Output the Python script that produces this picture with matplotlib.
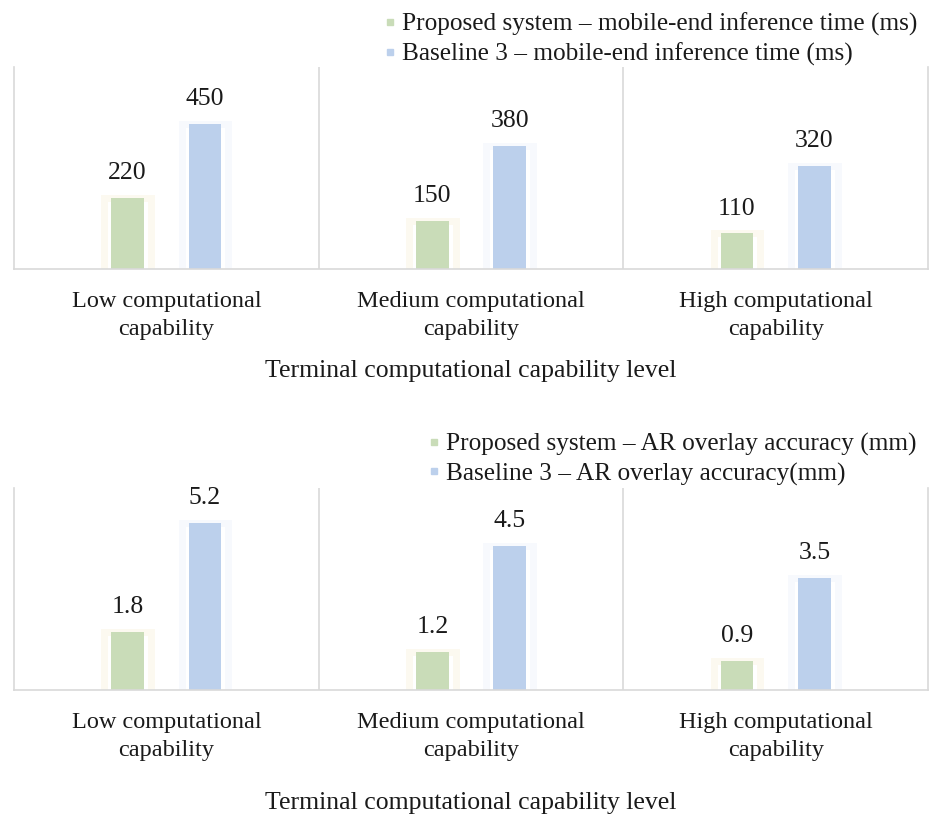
import matplotlib
matplotlib.use("Agg")
import matplotlib.pyplot as plt
from matplotlib.lines import Line2D
import numpy as np

# data
levels = ["Low computational\ncapability",
          "Medium computational\ncapability",
          "High computational\ncapability"]
time_proposed = [220, 150, 110]
time_baseline = [450, 380, 320]
acc_proposed = [1.8, 1.2, 0.9]
acc_baseline = [5.2, 4.5, 3.5]

time_names = ["Proposed system \u2013 mobile-end inference time (ms)",
              "Baseline 3 \u2013 mobile-end inference time (ms)"]
acc_names = ["Proposed system \u2013 AR overlay accuracy (mm)",
             "Baseline 3 \u2013 AR overlay accuracy(mm)"]
xlabel = "Terminal computational capability level"

GREEN = "#C9DCB8"
BLUE = "#BCD0EC"
GRID = "#D9D9D9"
TXT = "#1a1a1a"

plt.rcParams["font.family"] = ["Liberation Serif", "DejaVu Serif"]

fig = plt.figure(figsize=(9.39, 8.18), dpi=100)


def panel(rect, a, b, ymax, names, leg_y, leg_x, lab_pad, fmt):
    ax = fig.add_axes(rect)
    x = np.arange(len(levels))
    off, w = 0.127, 0.108
    pad = ymax * 0.045
    for vals, col, glow, sgn in ((a, GREEN, "#FCF9F0", -1), (b, BLUE, "#F7F9FD", 1)):
        # white box with a faint glow behind each bar
        ax.bar(x + sgn * off, [v + pad for v in vals], w * 1.42, bottom=-pad,
               color="white", edgecolor=glow, linewidth=5, zorder=1)
        bars = ax.bar(x + sgn * off, vals, w, color=col, linewidth=0, zorder=2)
        for r, v in zip(bars, vals):
            ax.annotate(fmt.format(v), (r.get_x() + r.get_width() / 2, r.get_height()),
                        xytext=(0, 10), textcoords="offset points",
                        ha="center", va="bottom", fontsize=18.5, color=TXT)
    ax.set_xlim(-0.5, 2.5)
    ax.set_ylim(0, ymax)
    for xv in (0.5, 1.5):
        ax.axvline(xv, color=GRID, lw=1.2, zorder=3)
    ax.spines["top"].set_visible(False)
    for s in ("left", "right", "bottom"):
        ax.spines[s].set_color(GRID)
        ax.spines[s].set_linewidth(1.2)
        ax.spines[s].set_zorder(3)
    ax.set_yticks([])
    ax.set_xticks(x)
    ax.set_xticklabels(levels, fontsize=17.5, color=TXT, linespacing=1.45)
    ax.tick_params(axis="x", length=0, pad=16)
    ax.set_xlabel(xlabel, fontsize=18.5, color=TXT, labelpad=lab_pad)
    handles = [Line2D([], [], marker="s", ls="none", color=GREEN, markersize=4.5),
               Line2D([], [], marker="s", ls="none", color=BLUE, markersize=4.5)]
    fig.legend(handles, names, loc="upper left", bbox_to_anchor=(leg_x, leg_y),
               frameon=False, fontsize=18.2, handlelength=0.6, handletextpad=0.2,
               labelspacing=0.25, borderaxespad=0, borderpad=0, labelcolor=TXT)
    return ax


panel([14 / 939, 1 - 269 / 818, 914 / 939, 202 / 818],
      time_proposed, time_baseline, 625, time_names,
      1 - 13 / 818, 382 / 939, 14, "{:d}")
panel([14 / 939, 1 - 690 / 818, 914 / 939, 202 / 818],
      acc_proposed, acc_baseline, 6.3, acc_names,
      1 - 433 / 818, 426 / 939, 22, "{:.1f}")

fig.savefig("out.png", dpi=100, facecolor="white")
